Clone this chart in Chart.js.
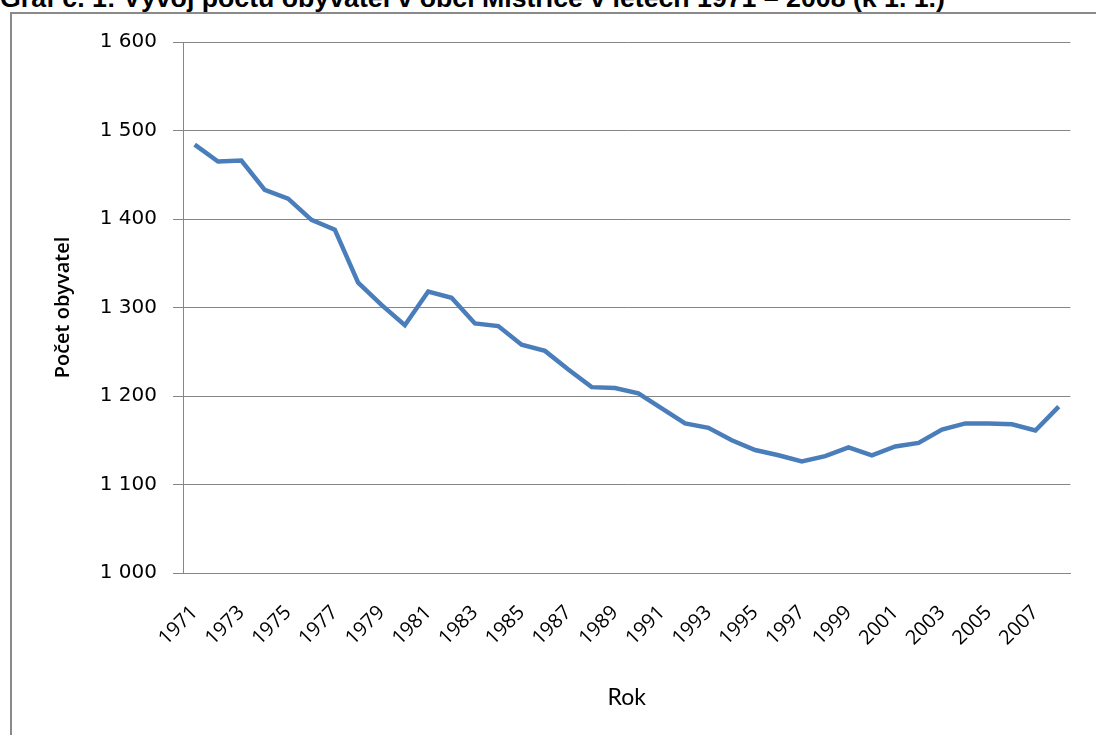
<!DOCTYPE html>
<html>
<head>
<meta charset="utf-8">
<script src="https://cdn.jsdelivr.net/npm/chart.js@4"></script>
<style>
  html, body { margin: 0; padding: 0; background: #fff; overflow: hidden; }
  #wrap { position: relative; width: 1096px; height: 735px; overflow: hidden; }
  #caption {
    position: absolute; left: 0; top: -15px; white-space: nowrap;
    font: bold 26.7px "Liberation Sans", Arial, sans-serif; line-height: 1; color: #000;
  }
  #frame {
    position: absolute; left: 10px; top: 12px; width: 1200px; height: 800px;
    border: 2px solid #8a8a8a; box-sizing: border-box;
  }
  #chart { position: absolute; left: 0; top: 0; }
</style>
</head>
<body>
<div id="wrap">
  <div id="caption">Graf č. 1: Vývoj počtu obyvatel v obci Místřice v letech 1971 – 2008 (k 1. 1.)</div>
  <div id="frame"></div>
  <canvas id="chart" width="1096" height="735"></canvas>
</div>
<script>
// years on the x axis
const years = [
  1971, 1972, 1973, 1974, 1975, 1976, 1977, 1978, 1979, 1980,
  1981, 1982, 1983, 1984, 1985, 1986, 1987, 1988, 1989, 1990,
  1991, 1992, 1993, 1994, 1995, 1996, 1997, 1998, 1999, 2000,
  2001, 2002, 2003, 2004, 2005, 2006, 2007, 2008
];

// population (počet obyvatel)
const population = [
  1484, 1465, 1466, 1433, 1423, 1399, 1388, 1328, 1303, 1280,
  1318, 1311, 1282, 1279, 1258, 1251, 1230, 1210, 1209, 1203,
  1186, 1169, 1164, 1150, 1139, 1133, 1126, 1132, 1142, 1133,
  1143, 1147, 1162, 1169, 1169, 1168, 1161, 1188
];

const yMin = 1000;
const yMax = 1600;
const yStep = 100;

const fmt = v => v.toString().replace(/\B(?=(\d{3})+(?!\d))/g, ' ');

new Chart(document.getElementById('chart'), {
  type: 'line',
  data: {
    labels: years,
    datasets: [{
      label: 'Počet obyvatel',
      data: population,
      borderColor: '#4a7ebb',
      borderWidth: 4.5,
      pointRadius: 0,
      tension: 0,
      fill: false
    }]
  },
  options: {
    responsive: false,
    animation: false,
    layout: { padding: { top: 42, right: 23, left: 0, bottom: 0 } },
    plugins: {
      legend: { display: false },
      tooltip: { enabled: false }
    },
    scales: {
      x: {
        offset: true,
        grid: { display: false },
        border: { display: true, color: '#868686', width: 1 },
        ticks: {
          autoSkip: false,
          maxRotation: 45,
          minRotation: 45,
          padding: 20,
          color: '#000',
          font: { family: 'Open Sans', size: 20 },
          callback: (v, i) => (i % 2 === 0 ? years[i] : '')
        },
        title: {
          display: true,
          text: 'Rok',
          color: '#000',
          font: { family: 'Lato', size: 23 },
          padding: { bottom: 24 }
        },
        afterFit: s => { s.height = 162; }
      },
      y: {
        min: yMin,
        max: yMax,
        grid: { color: '#868686', lineWidth: 1, tickLength: 10 },
        border: { display: true, color: '#868686', width: 1 },
        ticks: {
          stepSize: yStep,
          padding: 16,
          color: '#000',
          font: { family: 'DejaVu Sans', size: 20 },
          callback: v => fmt(v)
        },
        title: {
          display: true,
          text: 'Počet obyvatel',
          color: '#000',
          font: { family: 'Open Sans', size: 20, weight: '600' },
          padding: { top: 51 }
        },
        afterFit: s => { s.width = 183; }
      }
    }
  }
});
</script>
</body>
</html>
